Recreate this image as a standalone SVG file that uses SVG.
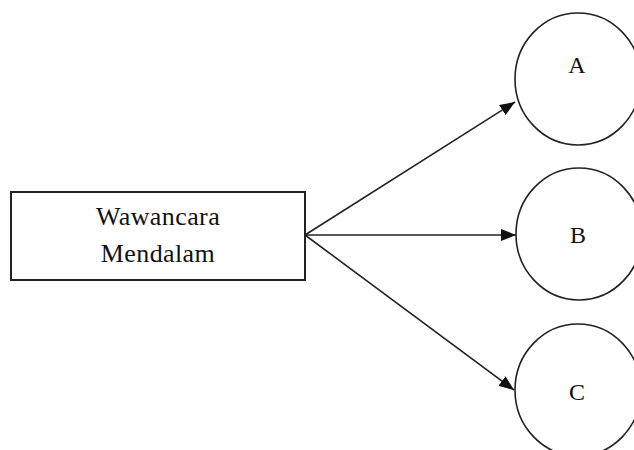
<svg xmlns="http://www.w3.org/2000/svg" width="634" height="450" viewBox="0 0 634 450">
<style>
.box{fill:#fff;stroke:#222;stroke-width:2}
.node{fill:#fff;stroke:#222;stroke-width:1.6}
.lbl{font-family:"Liberation Serif","Times New Roman",serif;fill:#111;text-anchor:middle}
.edge{stroke:#222;stroke-width:1.6;fill:none;marker-end:url(#ah)}
</style>
<defs>
<marker id="ah" viewBox="0 0 15 12" refX="15" refY="6" markerWidth="15" markerHeight="12" markerUnits="userSpaceOnUse" orient="auto">
<path d="M0,0 L15,6 L0,12 z" fill="#111"/>
</marker>
</defs>
<rect width="634" height="450" fill="#fff"/>
<g id="connectors">
<line class="edge" x1="305" y1="235" x2="515" y2="102"/>
<line class="edge" x1="305" y1="235" x2="516" y2="235"/>
<line class="edge" x1="305" y1="235" x2="514" y2="390"/>
</g>
<g id="wawancara">
<rect class="box" x="11" y="192" width="294" height="88"/>
<text class="lbl" x="158" y="225" font-size="26" letter-spacing="0.4">Wawancara</text>
<text class="lbl" x="158" y="262" font-size="26" letter-spacing="0.4">Mendalam</text>
</g>
<g id="nodeA">
<ellipse class="node" cx="578" cy="79" rx="63" ry="66"/>
<text class="lbl" x="577" y="73" font-size="24">A</text>
</g>
<g id="nodeB">
<ellipse class="node" cx="579" cy="234" rx="63" ry="66"/>
<text class="lbl" x="578" y="243" font-size="24">B</text>
</g>
<g id="nodeC">
<ellipse class="node" cx="578" cy="390" rx="63" ry="66"/>
<text class="lbl" x="577" y="400" font-size="24">C</text>
</g>
</svg>
